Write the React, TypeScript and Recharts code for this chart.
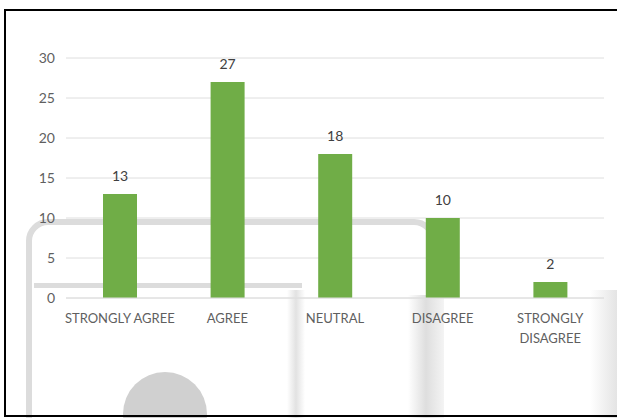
import { BarChart, Bar, XAxis, YAxis, CartesianGrid, LabelList } from 'recharts';

const categories = ['STRONGLY AGREE', 'AGREE', 'NEUTRAL', 'DISAGREE', 'STRONGLY DISAGREE'];
const responses = [13, 27, 18, 10, 2];
const yTicks = [0, 5, 10, 15, 20, 25, 30];

const data = categories.map((name, i) => ({ name, value: responses[i] }));

const FONT = 'Lato, "Open Sans", sans-serif';

// long labels break onto two lines, like the original
const CategoryTick = (props: any) => {
  const { x, y, payload } = props;
  const label: string = payload.value;
  const lines = label.length > 14 ? label.split(' ') : [label];
  return (
    <text x={x} y={y} textAnchor="middle" fill="#5f5f5f" fontSize={13} fontFamily={FONT}>
      {lines.map((line, i) => (
        <tspan key={i} x={x} dy={i === 0 ? 17 : 20}>
          {line}
        </tspan>
      ))}
    </text>
  );
};

// faint scan marks behind the chart
const ScanMarks = () => (
  <>
    <div style={{ position: 'absolute', left: 26, top: 219, width: 398, height: 260, border: '6px solid #dcdcdc', borderRadius: 22 }} />
    <div style={{ position: 'absolute', left: 34, top: 283, width: 268, height: 5, background: '#dcdcdc' }} />
    <div style={{ position: 'absolute', left: 287, top: 290, width: 18, height: 128, background: 'linear-gradient(90deg,#fff,#e2e2e2,#fff)' }} />
    <div style={{ position: 'absolute', left: 408, top: 295, width: 36, height: 123, background: 'linear-gradient(90deg,#fff,#dedede,#f4f4f4)' }} />
    <div style={{ position: 'absolute', left: 590, top: 290, width: 27, height: 128, background: 'linear-gradient(90deg,#fff,#e4e4e4)' }} />
    <div style={{ position: 'absolute', left: 123, top: 372, width: 84, height: 84, borderRadius: '50%', background: '#d0d0d0' }} />
  </>
);

export default function App() {
  return (
    <div style={{ position: 'absolute', left: 0, top: 0, width: 617, height: 418, overflow: 'hidden', background: '#fff' }}>
      <ScanMarks />
      <div style={{ position: 'absolute', left: 4, top: 9, width: 640, height: 404, border: '2px solid #000' }} />
      <div style={{ position: 'absolute', left: 0, top: 0 }}>
        <BarChart
          width={617}
          height={418}
          data={data}
          margin={{ top: 58, right: 13, bottom: 60, left: 0 }}
          barSize={34}
        >
          <CartesianGrid vertical={false} stroke="#dedede" />
          <XAxis
            dataKey="name"
            axisLine={{ stroke: '#dedede' }}
            tickLine={false}
            height={60}
            interval={0}
            tick={<CategoryTick />}
          />
          <YAxis
            domain={[0, 30]}
            ticks={yTicks}
            width={66}
            axisLine={false}
            tickLine={false}
            tickMargin={5}
            tick={{ fill: '#5f5f5f', fontSize: 14, fontFamily: FONT }}
          />
          <Bar dataKey="value" fill="#70ad47" isAnimationActive={false}>
            <LabelList dataKey="value" position="top" offset={13} fill="#404040" fontSize={14} fontFamily={FONT} />
          </Bar>
        </BarChart>
      </div>
    </div>
  );
}
